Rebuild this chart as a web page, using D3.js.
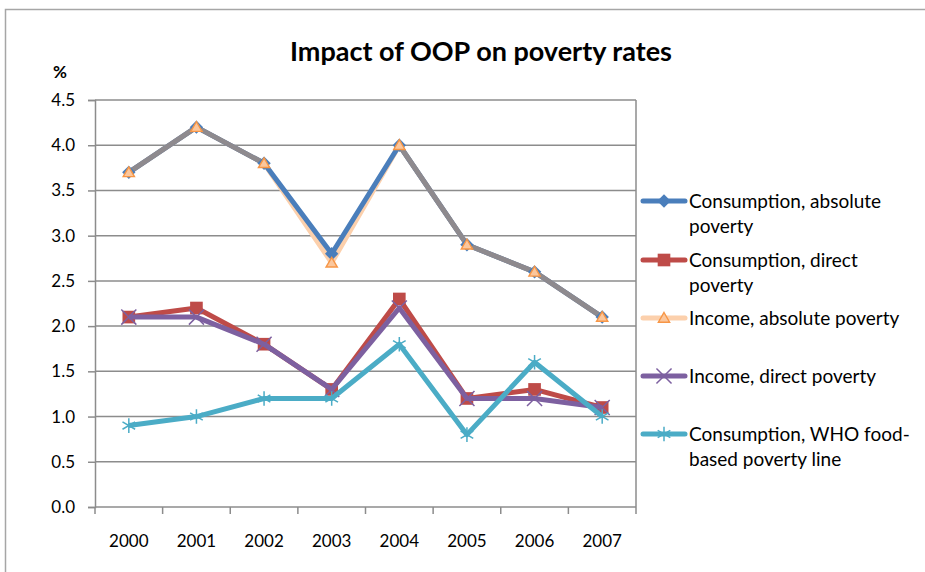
<!DOCTYPE html>
<html>
<head>
<meta charset="utf-8">
<script src="https://cdn.jsdelivr.net/npm/d3@7"></script>
<style>
  body { margin: 0; background: #fff; }
  svg text { font-family: Lato, "Liberation Sans", sans-serif; fill: #000; }
</style>
</head>
<body>
<svg id="chart" width="925" height="572"></svg>
<script>
// years on the x axis
const years = ["2000", "2001", "2002", "2003", "2004", "2005", "2006", "2007"];
const yTicks = [0, 0.5, 1, 1.5, 2, 2.5, 3, 3.5, 4, 4.5];

// series values (%)
const consAbsolute = [3.7, 4.2, 3.8, 2.8, 4.0, 2.9, 2.6, 2.1];
const consDirect   = [2.1, 2.2, 1.8, 1.3, 2.3, 1.2, 1.3, 1.1];
const incAbsolute  = [3.7, 4.2, 3.8, 2.7, 4.0, 2.9, 2.6, 2.1];
const incDirect    = [2.1, 2.1, 1.8, 1.3, 2.2, 1.2, 1.2, 1.1];
const consWHO      = [0.9, 1.0, 1.2, 1.2, 1.8, 0.8, 1.6, 1.0];

const seriesNames = [
  ["Consumption, absolute", "poverty"],
  ["Consumption, direct", "poverty"],
  ["Income, absolute poverty"],
  ["Income, direct poverty"],
  ["Consumption, WHO food-", "based poverty line"]
];

const svg = d3.select("#chart");

// plot area
const plotL = 95, plotR = 636, plotT = 100, plotB = 507;

const x = d3.scaleBand().domain(years).range([plotL, plotR]);
const y = d3.scaleLinear().domain([0, 4.5]).range([plotB, plotT]);
const cx = d => x(d) + x.bandwidth() / 2;

// marker sizes
const diamondSize = 90, squareSize = 160, triSize = 55, crossSize = 150;

// outer chart border
svg.append("path")
  .attr("d", "M5.5,572 V9.5 H925")
  .attr("fill", "none")
  .attr("stroke", "#a6a6a6")
  .attr("stroke-width", 1.5);

// title
svg.append("text")
  .attr("x", 481).attr("y", 61)
  .attr("text-anchor", "middle")
  .attr("font-size", 27).attr("font-weight", "bold")
  .text("Impact of OOP on poverty rates");

svg.append("text")
  .attr("x", 60).attr("y", 78)
  .attr("text-anchor", "middle")
  .attr("font-size", 17).attr("font-weight", "bold")
  .text("%");

// gridlines
svg.append("g")
  .selectAll("line")
  .data(yTicks.filter(d => d > 0))
  .join("line")
  .attr("x1", plotL).attr("x2", plotR)
  .attr("y1", d => y(d)).attr("y2", d => y(d))
  .attr("stroke", "#8c8c8c")
  .attr("stroke-width", 1.5);

// right border of plot
svg.append("line")
  .attr("x1", plotR).attr("x2", plotR)
  .attr("y1", plotT).attr("y2", plotB)
  .attr("stroke", "#8c8c8c").attr("stroke-width", 1.5);

// y axis
const yAxis = svg.append("g")
  .attr("transform", `translate(${plotL},0)`)
  .call(d3.axisLeft(y).tickValues(yTicks).tickFormat(d3.format(".1f")).tickSize(7).tickPadding(13));
yAxis.select(".domain").attr("stroke", "#8c8c8c").attr("stroke-width", 1.5);
yAxis.selectAll(".tick line").attr("stroke", "#8c8c8c").attr("stroke-width", 1.5);
yAxis.selectAll("text").attr("font-size", 17).attr("font-family", "Lato, sans-serif");

// x axis: ticks on category boundaries
const xAxisG = svg.append("g").attr("transform", `translate(0,${plotB})`);
xAxisG.append("line")
  .attr("x1", plotL).attr("x2", plotR)
  .attr("stroke", "#8c8c8c").attr("stroke-width", 1.5);
xAxisG.selectAll("line.tk")
  .data(years.concat(["end"]))
  .join("line")
  .attr("class", "tk")
  .attr("x1", (d, i) => i < years.length ? x(d) : plotR)
  .attr("x2", (d, i) => i < years.length ? x(d) : plotR)
  .attr("y1", 0).attr("y2", 7)
  .attr("stroke", "#8c8c8c").attr("stroke-width", 1.5);
xAxisG.selectAll("text")
  .data(years)
  .join("text")
  .attr("x", d => cx(d))
  .attr("y", 40)
  .attr("text-anchor", "middle")
  .attr("font-size", 17)
  .text(d => d);

const line = d3.line().x((d, i) => cx(years[i])).y(d => y(d));

// Income, absolute (light peach) under the blue line
svg.append("path").datum(incAbsolute)
  .attr("d", line).attr("fill", "none")
  .attr("stroke", "#fcd0ac").attr("stroke-width", 5).attr("stroke-linejoin", "round");

svg.append("path").datum(consAbsolute)
  .attr("d", line).attr("fill", "none")
  .attr("stroke", "#4a7ebb").attr("stroke-width", 5).attr("stroke-linejoin", "round");

// where the two absolute series coincide the overlap shows grey
const overlap = [];
for (let i = 0; i < years.length - 1; i++) {
  if (consAbsolute[i] === incAbsolute[i] && consAbsolute[i + 1] === incAbsolute[i + 1]) {
    overlap.push([i, i + 1]);
  }
}
svg.append("g").selectAll("line")
  .data(overlap)
  .join("line")
  .attr("x1", d => cx(years[d[0]])).attr("y1", d => y(incAbsolute[d[0]]))
  .attr("x2", d => cx(years[d[1]])).attr("y2", d => y(incAbsolute[d[1]]))
  .attr("stroke", "#8e8a8e").attr("stroke-width", 5).attr("stroke-linecap", "round");

// blue diamonds
svg.append("g").selectAll("path")
  .data(consAbsolute)
  .join("path")
  .attr("transform", (d, i) => `translate(${cx(years[i])},${y(d)}) rotate(45)`)
  .attr("d", d3.symbol(d3.symbolSquare, diamondSize))
  .attr("fill", "#4a7ebb");

// orange triangles
svg.append("g").selectAll("path")
  .data(incAbsolute)
  .join("path")
  .attr("transform", (d, i) => `translate(${cx(years[i])},${y(d) + 1})`)
  .attr("d", d3.symbol(d3.symbolTriangle, triSize))
  .attr("fill", "#fbc79d")
  .attr("stroke", "#f79646").attr("stroke-width", 1.4);

// Consumption, direct (red squares)
svg.append("path").datum(consDirect)
  .attr("d", line).attr("fill", "none")
  .attr("stroke", "#be4b48").attr("stroke-width", 5).attr("stroke-linejoin", "round");
svg.append("g").selectAll("path")
  .data(consDirect)
  .join("path")
  .attr("transform", (d, i) => `translate(${cx(years[i])},${y(d)})`)
  .attr("d", d3.symbol(d3.symbolSquare, squareSize))
  .attr("fill", "#be4b48");

// Income, direct (purple x)
svg.append("path").datum(incDirect)
  .attr("d", line).attr("fill", "none")
  .attr("stroke", "#7d60a0").attr("stroke-width", 5).attr("stroke-linejoin", "round");
svg.append("g").selectAll("path")
  .data(incDirect)
  .join("path")
  .attr("transform", (d, i) => `translate(${cx(years[i])},${y(d)})`)
  .attr("d", d3.symbol(d3.symbolTimes, crossSize))
  .attr("fill", "none")
  .attr("stroke", "#7d60a0").attr("stroke-width", 1.5);

// Consumption, WHO (cyan asterisks)
svg.append("path").datum(consWHO)
  .attr("d", line).attr("fill", "none")
  .attr("stroke", "#4bacc6").attr("stroke-width", 5).attr("stroke-linejoin", "round");
svg.append("g").selectAll("path")
  .data(consWHO)
  .join("path")
  .attr("transform", (d, i) => `translate(${cx(years[i])},${y(d)})`)
  .attr("d", d3.symbol(d3.symbolAsterisk, crossSize))
  .attr("fill", "none")
  .attr("stroke", "#4bacc6").attr("stroke-width", 1.5);

// legend
const legendColors = ["#4a7ebb", "#be4b48", "#fcd0ac", "#7d60a0", "#4bacc6"];
const legendY = [201, 260, 318, 376, 434];
const lx1 = 643, lx2 = 685;
const leg = svg.append("g").selectAll("g")
  .data(seriesNames)
  .join("g")
  .attr("transform", (d, i) => `translate(0,${legendY[i]})`);

leg.append("line")
  .attr("x1", lx1).attr("x2", lx2)
  .attr("stroke", (d, i) => legendColors[i])
  .attr("stroke-width", 5).attr("stroke-linecap", "round");

const mid = (lx1 + lx2) / 2;
leg.filter((d, i) => i === 0).append("path")
  .attr("transform", `translate(${mid},0) rotate(45)`)
  .attr("d", d3.symbol(d3.symbolSquare, diamondSize)).attr("fill", "#4a7ebb");
leg.filter((d, i) => i === 1).append("path")
  .attr("transform", `translate(${mid},0)`)
  .attr("d", d3.symbol(d3.symbolSquare, squareSize)).attr("fill", "#be4b48");
leg.filter((d, i) => i === 2).append("path")
  .attr("transform", `translate(${mid},1)`)
  .attr("d", d3.symbol(d3.symbolTriangle, triSize))
  .attr("fill", "#fbc79d").attr("stroke", "#f79646").attr("stroke-width", 1.4);
leg.filter((d, i) => i === 3).append("path")
  .attr("transform", `translate(${mid},0)`)
  .attr("d", d3.symbol(d3.symbolTimes, crossSize))
  .attr("fill", "none").attr("stroke", "#7d60a0").attr("stroke-width", 1.5);
leg.filter((d, i) => i === 4).append("path")
  .attr("transform", `translate(${mid},0)`)
  .attr("d", d3.symbol(d3.symbolAsterisk, crossSize))
  .attr("fill", "none").attr("stroke", "#4bacc6").attr("stroke-width", 1.5);

leg.each(function (d) {
  const t = d3.select(this).append("text")
    .attr("x", 689).attr("y", 7)
    .attr("font-size", 19);
  d.forEach((s, j) => {
    t.append("tspan").attr("x", 689).attr("dy", j === 0 ? 0 : 25).text(s);
  });
});
</script>
</body>
</html>
